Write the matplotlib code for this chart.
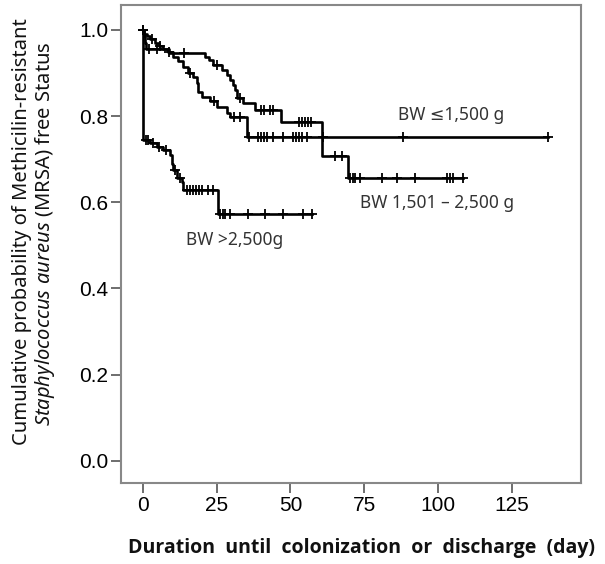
import numpy as np
import matplotlib
matplotlib.use('Agg')
import matplotlib.pyplot as plt

plt.rcParams['font.family'] = ['Liberation Sans', 'DejaVu Sans']
plt.rcParams['mathtext.fontset'] = 'custom'
plt.rcParams['mathtext.rm'] = 'Noto Sans'
plt.rcParams['mathtext.it'] = 'Noto Sans:italic'

# Kaplan-Meier steps (time in days, survival after the event)
a_times = [0, 0.5, 1.5, 2.5, 4, 5.5, 7, 8.5, 10.4, 12, 13.7, 15.4, 17.1, 18.3, 18.8, 20, 22.8, 25, 28.4, 29.5, 35.2]
a_surv = [1.0, 0.99, 0.985, 0.978, 0.97, 0.963, 0.957, 0.948, 0.938, 0.927, 0.915, 0.900, 0.892, 0.876, 0.857, 0.845, 0.834, 0.822, 0.807, 0.799, 0.752]
a_cens = [0, 3, 6, 9, 16, 24, 31, 33, 36, 39, 40, 41, 42, 44, 47.5, 51, 52, 53, 54, 55.6, 61, 88, 137]

b_times = [0, 0.3, 0.8, 1.2, 9, 21, 22.5, 23.9, 26.7, 28.4, 29.5, 30.5, 31.2, 31.8, 34, 38, 46.8, 60.8, 69.6]
b_surv = [1.0, 0.985, 0.97, 0.955, 0.947, 0.938, 0.93, 0.919, 0.907, 0.896, 0.884, 0.872, 0.861, 0.841, 0.830, 0.814, 0.787, 0.707, 0.657]
b_cens = [2, 5, 14, 25, 33, 40, 41, 43, 44, 53, 54, 55, 56, 57, 65, 67.3, 70, 71, 72, 73.5, 81, 86, 92, 103, 104, 105, 108.5]

c_times = [0, 0.15, 2.5, 4.7, 7, 9.2, 9.8, 10.4, 11.5, 13.2, 13.7, 25.6]
c_surv = [1.0, 0.745, 0.737, 0.729, 0.721, 0.71, 0.69, 0.675, 0.656, 0.648, 0.628, 0.572]
c_cens = [0, 1, 1.8, 3.5, 5.5, 8, 11, 12.5, 15, 16, 17, 18, 19, 20, 22, 23.8, 26, 27, 28, 29.5, 35.7, 41.4, 47.6, 54.3, 57.2]

labels = ['BW \u22641,500 g', 'BW 1,501 \u2013 2,500 g', 'BW >2,500g']
label_pos = [(104.3, 0.803), (99.6, 0.598), (31.2, 0.512)]

x_ticks = [0, 25, 50, 75, 100, 125]
y_ticks = [0.0, 0.2, 0.4, 0.6, 0.8, 1.0]

fig = plt.figure(figsize=(6.05, 5.64), dpi=100)
ax = fig.add_axes([0.1995, 0.1431, 0.7603, 0.848])

for t, s, c in [(a_times, a_surv, a_cens), (b_times, b_surv, b_cens), (c_times, c_surv, c_cens)]:
    t = np.array(t + [max(c)])
    s = np.array(s + [s[-1]])
    ax.step(t, s, where='post', color='black', lw=1.9)
    c = np.array(c)
    idx = np.searchsorted(t, c, side='right') - 1
    ax.plot(c, s[idx], ls='none', marker='+', ms=7, mew=1.3, color='black')

for lab, (x, y) in zip(labels, label_pos):
    ax.text(x, y, lab, fontsize=12.5, color='#333333', ha='center', va='center',
            family=['Noto Sans', 'DejaVu Sans'])

ax.set_xlim(-7.45, 148.2)
ax.set_ylim(-0.0525, 1.058)
ax.set_xticks(x_ticks)
ax.set_yticks(y_ticks)
ax.set_yticklabels(['%.1f' % v for v in y_ticks])
ax.tick_params(direction='out', length=7, width=1.2, color='#555555', labelsize=15, pad=2)
for sp in ax.spines.values():
    sp.set_color('#888888')
    sp.set_linewidth(1.5)

fig.text(0.0364, 0.589, 'Cumulative probability of Methicilin-resistant', rotation=90,
         ha='center', va='center', fontsize=14.5, family='Noto Sans', color='#111111')
fig.text(0.0744, 0.585, r'$\it{Staphylococcus\ aureus}$ (MRSA) free Status', rotation=90,
         ha='center', va='center', fontsize=14.5, family='Noto Sans', color='#111111')
fig.text(0.597, 0.028, 'Duration  until  colonization  or  discharge  (day)',
         ha='center', va='center', fontsize=14, fontweight='bold', family='Open Sans', color='#111111')

fig.savefig('out.png', dpi=100)
